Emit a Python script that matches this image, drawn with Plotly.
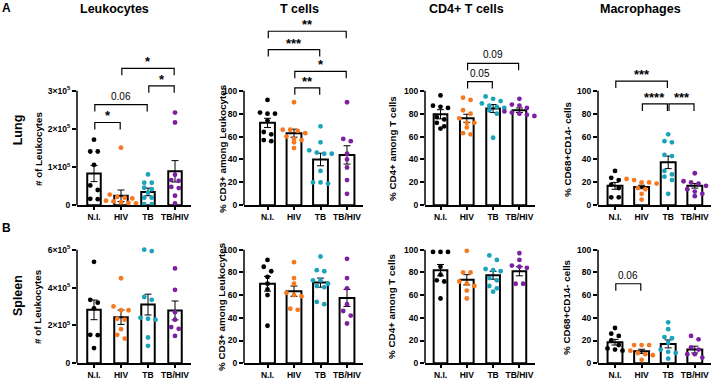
import plotly.graph_objects as go

# ---------------- data ----------------
GROUPS = ["N.I.", "HIV", "TB", "TB/HIV"]
GROUP_COLORS = ["#000000", "#F7791F", "#1BA3BC", "#7D1FA3"]
PANEL_TITLES = ["Leukocytes", "T cells", "CD4+ T cells", "Macrophages"]
ROW_TITLES = ["Lung", "Spleen"]
ROW_LETTERS = ["A", "B"]
Y_TITLES = ["# of Leukocytes", "% CD3+ among Leukocytes",
            "% CD4+ among T cells", "% CD68+CD14- cells"]

# Lung
lung_leuk = [[172000, 141000, 141000, 106000, 52000, 40000, 17000, 16000],
             [151000, 28000, 22000, 20000, 18000, 12000, 10000, 8000, 6000, 5000],
             [81000, 59000, 59000, 46000, 42000, 33000, 20000, 20000, 3000, 3000],
             [243000, 217000, 80000, 66000, 64000, 48000, 45000, 25000, 5000]]
lung_leuk_mean = [83000, 25000, 35000, 89000]
lung_leuk_sem = [21000, 15000, 10000, 28000]

lung_t = [[92, 80, 80, 81, 74, 64, 62, 57, 56],
          [90, 66, 66, 65, 63, 60, 58, 57, 55, 50],
          [69, 55, 48, 46, 45, 45, 30, 20, 19, 20],
          [90, 56, 58, 45, 40, 33, 22, 10]]
lung_t_mean = [72, 63, 40, 44]
lung_t_sem = [4, 3.5, 5.5, 8]

lung_cd4 = [[96, 86, 87, 85, 77, 75, 67, 69, 72],
            [94, 92, 83, 80, 76, 72, 72, 68, 63, 62],
            [95, 93, 91, 89, 87, 86, 85, 83, 80, 59],
            [93, 88, 87, 85, 82, 81, 80, 78, 79]]
lung_cd4_mean = [79.5, 76, 84.5, 83]
lung_cd4_sem = [4, 3.5, 3.5, 2]

lung_mac = [[30, 24, 22, 18, 15, 7, 7],
            [23, 22, 20, 19, 20, 15, 14, 10, 5],
            [62, 56, 55, 44, 43, 30, 27, 25, 22, 10],
            [28, 21, 20, 19, 17, 14, 12, 8, 10]]
lung_mac_mean = [17, 16, 37.5, 17]
lung_mac_sem = [3, 1.5, 5.5, 2]

# Spleen
spleen_leuk = [[536000, 335000, 320000, 290000, 150000, 148000, 80000],
               [449000, 300000, 280000, 280000, 235000, 230000, 180000, 150000, 130000],
               [593000, 600000, 335000, 350000, 230000, 235000, 240000, 136000, 92000],
               [501000, 388000, 270000, 230000, 191000, 182000, 144000]]
spleen_leuk_mean = [282000, 243000, 310000, 279000]
spleen_leuk_sem = [52000, 38000, 55000, 50000]

spleen_t = [[91, 85, 81, 76, 70, 65, 60, 33],
            [89, 75, 70, 62, 60, 59, 48, 47],
            [94, 82, 81, 73, 73, 70, 68, 67, 54, 52],
            [92, 75, 66, 52, 46, 42, 35]]
spleen_t_mean = [70, 63.5, 71, 57.5]
spleen_t_sem = [6.5, 4.5, 4, 7.5]

spleen_cd4 = [[98, 98, 98, 85, 78, 73, 72, 57],
              [99, 80, 80, 72, 70, 68, 64, 57],
              [95, 91, 82, 83, 81, 75, 73, 68, 66, 63],
              [97, 91, 86, 85, 84, 70, 70]]
spleen_cd4_mean = [82, 73.5, 77.5, 81]
spleen_cd4_sem = [5, 4.5, 3.5, 4]

spleen_mac = [[31, 26, 24, 20, 16, 13, 12, 11],
              [16, 16, 16, 11, 9, 8, 7, 3],
              [36, 30, 23, 22, 18, 12, 10, 9, 4],
              [24, 21, 14, 12, 8, 8, 5]]
spleen_mac_mean = [18.5, 10.5, 17, 12]
spleen_mac_sem = [2.5, 1.8, 3.5, 3]

# y-axis ticks
leuk_lung_ticks = [0, 100000, 200000, 300000]
leuk_lung_ticktext = ["0", "1×10<sup>5</sup>", "2×10<sup>5</sup>", "3×10<sup>5</sup>"]
leuk_spleen_ticks = [0, 200000, 400000, 600000]
leuk_spleen_ticktext = ["0", "2×10<sup>5</sup>", "4×10<sup>5</sup>", "6×10<sup>5</sup>"]
pct_ticks = [0, 20, 40, 60, 80, 100]
pct_ticktext = ["0", "20", "40", "60", "80", "100"]

# significance comparisons: (panel, group a, group b, height in data units, label)
comparisons = [
    (0, 0, 1, 217000, "*"), (0, 0, 2, 264000, "0.06"),
    (0, 2, 3, 313000, "*"), (0, 1, 3, 359000, "*"),
    (1, 1, 2, 102.6, "**"), (1, 1, 3, 117, "*"),
    (1, 0, 2, 136, "***"), (1, 0, 3, 152, "**"),
    (2, 1, 2, 108, "0.05"), (2, 1, 3, 124, "0.09"),
    (3, 1, 2, 88.5, "****"), (3, 2, 3, 88.5, "***"), (3, 0, 2, 108.5, "***"),
    (7, 0, 1, 70, "0.06"),
]

# ---------------- layout geometry (pixels) ----------------
W, H = 715, 384
FONT = "Liberation Sans, Arial, sans-serif"
col_geo = [dict(A=77, c0=94, s=27, bw=0.5, ytx=38),
           dict(A=244, c0=267.5, s=26.5, bw=0.56, ytx=222),
           dict(A=425, c0=440.5, s=26.3, bw=0.52, ytx=392),
           dict(A=598, c0=615, s=26.6, bw=0.56, ytx=567)]
row_geo = [dict(bottom=208, tick_top=92, top=16, ytc=151),
           dict(bottom=368, tick_top=253, top=244, ytc=311)]

panels = [
    (lung_leuk, lung_leuk_mean, lung_leuk_sem, leuk_lung_ticks, leuk_lung_ticktext),
    (lung_t, lung_t_mean, lung_t_sem, pct_ticks, pct_ticktext),
    (lung_cd4, lung_cd4_mean, lung_cd4_sem, pct_ticks, pct_ticktext),
    (lung_mac, lung_mac_mean, lung_mac_sem, pct_ticks, pct_ticktext),
    (spleen_leuk, spleen_leuk_mean, spleen_leuk_sem, leuk_spleen_ticks, leuk_spleen_ticktext),
    (spleen_t, spleen_t_mean, spleen_t_sem, pct_ticks, pct_ticktext),
    (spleen_cd4, spleen_cd4_mean, spleen_cd4_sem, pct_ticks, pct_ticktext),
    (spleen_mac, spleen_mac_mean, spleen_mac_sem, pct_ticks, pct_ticktext),
]


def swarm(vals, py_per_unit, px_per_cat, bin_px=5.0, step_px=7.5):
    """GraphPad-like scatter: points at similar heights are spread symmetrically."""
    order = sorted(range(len(vals)), key=lambda i: -vals[i])
    res = [0.0] * len(vals)
    bins, cur, start = [], [], None
    for i in order:
        y = vals[i] * py_per_unit
        if cur and start - y < bin_px:
            cur.append(i)
        else:
            if cur:
                bins.append(cur)
            cur, start = [i], y
    if cur:
        bins.append(cur)
    for b in bins:
        k = len(b)
        for j, i in enumerate(b):
            res[i] = (j - (k - 1) / 2) * step_px / px_per_cat
    return res


fig = go.Figure()
layout = dict(width=W, height=H, margin=dict(l=0, r=0, t=0, b=0),
              paper_bgcolor="white", plot_bgcolor="white", showlegend=False,
              font=dict(family=FONT, color="black"))
shapes, annotations = [], []
panel_scale = {}

for p, (vals, means, sems, tvals, ttext) in enumerate(panels):
    r, c = divmod(p, 4)
    cg, rg = col_geo[c], row_geo[r]
    sfx = "" if p == 0 else str(p + 1)
    xr0 = -(cg["c0"] - cg["A"]) / cg["s"]
    xr1 = 3.6
    R = cg["A"] + (xr1 - xr0) * cg["s"]
    ymax = tvals[-1]
    yr1 = ymax * (rg["bottom"] - rg["top"]) / (rg["bottom"] - rg["tick_top"])
    py_per_unit = (rg["bottom"] - rg["tick_top"]) / ymax
    panel_scale[p] = (sfx, py_per_unit)

    layout["xaxis" + sfx] = dict(
        domain=[cg["A"] / W, R / W], range=[xr0, xr1], anchor="y" + sfx,
        tickvals=[0, 1, 2, 3], ticktext=GROUPS, ticks="outside", ticklen=3,
        tickwidth=1.5, tickcolor="black", showline=True, linewidth=1.5,
        linecolor="black", showgrid=False, zeroline=False,
        tickfont=dict(size=8.5, family=FONT, weight="bold", color="black"))
    layout["yaxis" + sfx] = dict(
        domain=[1 - rg["bottom"] / H, 1 - rg["top"] / H], range=[0, yr1],
        anchor="x" + sfx, tickvals=tvals, ticktext=ttext, ticks="outside",
        ticklen=4, tickwidth=1.5, tickcolor="black", showline=False,
        showgrid=False, zeroline=False,
        tickfont=dict(size=8.5, family=FONT, weight="bold", color="black"))

    fig.add_trace(go.Bar(
        x=[0, 1, 2, 3], y=means, width=cg["bw"],
        marker=dict(color="white", line=dict(color="black", width=2)),
        error_y=dict(type="data", array=sems, symmetric=True, color="black",
                     thickness=1, width=3.5),
        xaxis="x" + sfx, yaxis="y" + sfx, hoverinfo="skip"))

    for g in range(4):
        offs = swarm(vals[g], py_per_unit, cg["s"])
        fig.add_trace(go.Scatter(
            x=[g + o for o in offs], y=vals[g], mode="markers",
            marker=dict(color=GROUP_COLORS[g], size=4.8),
            cliponaxis=False, xaxis="x" + sfx, yaxis="y" + sfx))

    # y axis line only up to the top tick
    shapes.append(dict(type="line", xref="paper", yref="y" + sfx,
                       x0=cg["A"] / W, x1=cg["A"] / W, y0=0, y1=ymax,
                       line=dict(color="black", width=1.5)))
    # y-axis title
    annotations.append(dict(text=Y_TITLES[c], textangle=-90, xref="paper", yref="paper",
                            x=cg["ytx"] / W, y=1 - rg["ytc"] / H, showarrow=False,
                            xanchor="center", yanchor="middle",
                            font=dict(size=9.8, family=FONT, weight="bold")))

# significance brackets
for (p, a, b, yv, lab) in comparisons:
    sfx, ppu = panel_scale[p]
    leg = 7 / ppu
    xa, xb = a + 0.03, b - 0.03
    shapes.append(dict(type="path", xref="x" + sfx, yref="y" + sfx,
                       path=f"M {xa},{yv - leg} L {xa},{yv} L {xb},{yv} L {xb},{yv - leg}",
                       line=dict(color="black", width=1.2)))
    star = lab.startswith("*")
    annotations.append(dict(text=lab, xref="x" + sfx, yref="y" + sfx,
                            x=(a + b) / 2, y=yv, showarrow=False,
                            xanchor="center", yanchor="bottom",
                            yshift=-3 if star else 1,
                            font=dict(size=13 if star else 10, family=FONT,
                                      weight="bold" if star else "normal")))

# headers and row labels
header_x = [114, 299, 466, 640]
for c, t in enumerate(PANEL_TITLES):
    annotations.append(dict(text=t, xref="paper", yref="paper", x=header_x[c] / W,
                            y=1 - 9 / H, showarrow=False, xanchor="center", yanchor="middle",
                            font=dict(size=12.5, family=FONT, weight="bold")))
for r, t in enumerate(ROW_TITLES):
    annotations.append(dict(text=t, textangle=-90, xref="paper", yref="paper",
                            x=18 / W, y=1 - [132, 300][r] / H, showarrow=False,
                            xanchor="center", yanchor="middle",
                            font=dict(size=12.5, family=FONT, weight="bold")))
for r, t in enumerate(ROW_LETTERS):
    annotations.append(dict(text=t, xref="paper", yref="paper",
                            x=6 / W, y=1 - [8, 231][r] / H, showarrow=False,
                            xanchor="center", yanchor="middle",
                            font=dict(size=12, family=FONT, weight="bold")))

layout["shapes"] = shapes
layout["annotations"] = annotations
fig.update_layout(**layout)
fig.write_html("out.html")
